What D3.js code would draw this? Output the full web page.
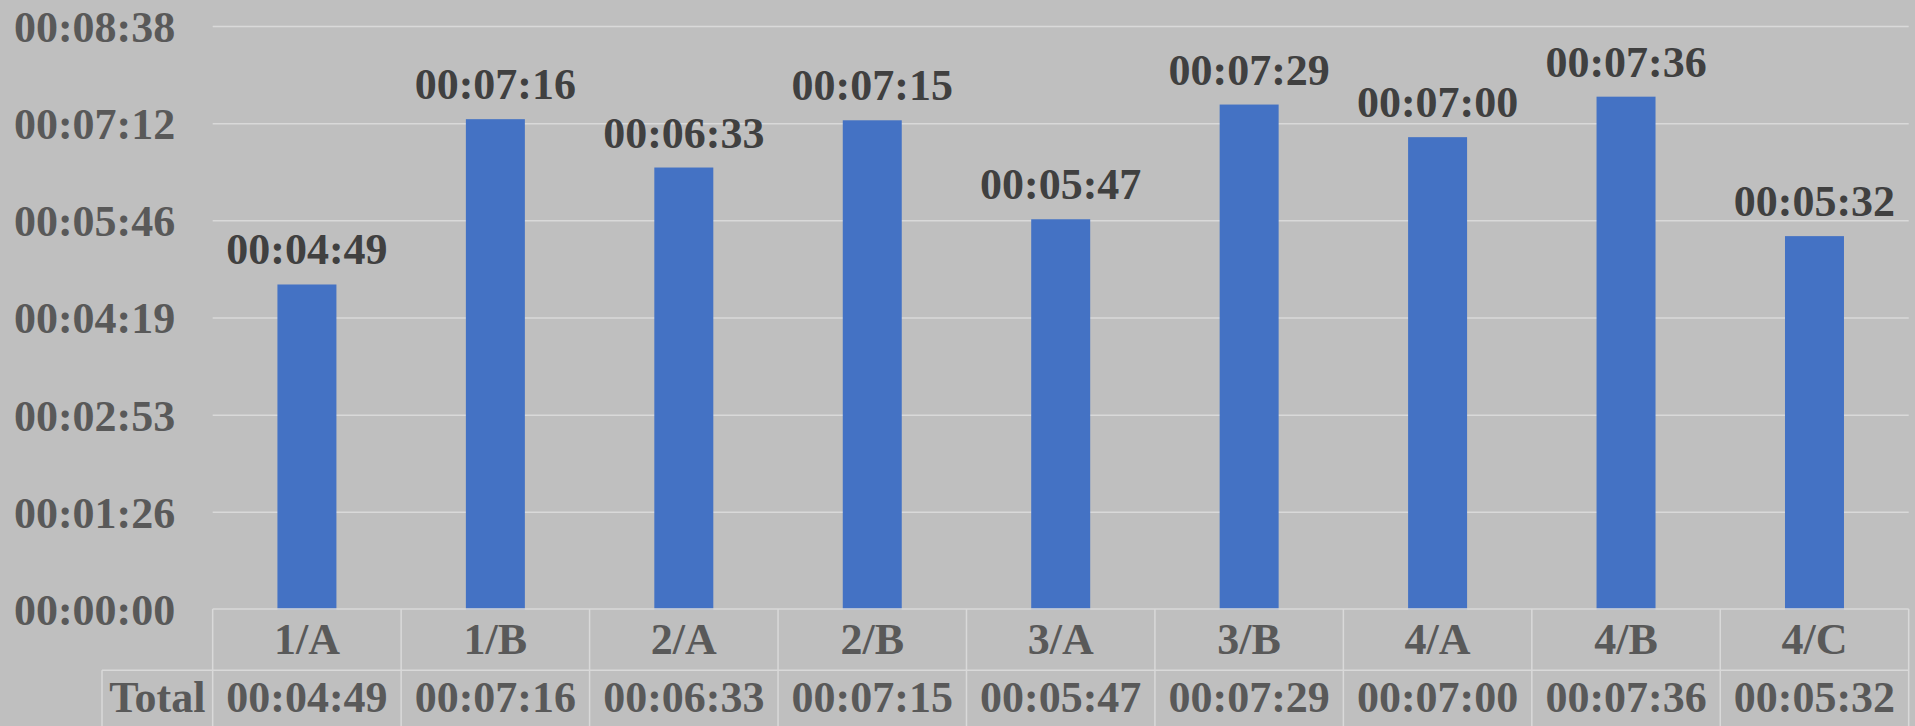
<!DOCTYPE html>
<html>
<head>
<meta charset="utf-8">
<script src="https://cdn.jsdelivr.net/npm/d3@7"></script>
<style>
  html, body { margin: 0; padding: 0; background: #BFBFBF; overflow: hidden; }
  svg { display: block; }
  text { font-family: "Liberation Serif", "Times New Roman", serif; font-weight: bold; }
</style>
</head>
<body>
<svg id="chart" width="1915" height="726"></svg>
<script>
// ---- data ----
const categories = ["1/A", "1/B", "2/A", "2/B", "3/A", "3/B", "4/A", "4/B", "4/C"];
const durationsSec = [289, 436, 393, 435, 347, 449, 420, 456, 332];
const tickValuesSec = [0, 86.4, 172.8, 259.2, 345.6, 432, 518.4];
const tickLabels = ["00:00:00", "00:01:26", "00:02:53", "00:04:19", "00:05:46", "00:07:12", "00:08:38"];
const seriesName = "Total";

function fmt(s) {
  const h = Math.floor(s / 3600), m = Math.floor((s % 3600) / 60), sec = Math.round(s % 60);
  const p = v => String(v).padStart(2, "0");
  return p(h) + ":" + p(m) + ":" + p(sec);
}

const W = 1915, H = 726;
const plotLeft = 212.7, plotRight = 1908.7, plotTop = 26.5, plotBottom = 609.5;
const fontSize = 44;
const gridColor = "#D9D9D9";

const svg = d3.select("#chart");

const x = d3.scaleBand().domain(categories).range([plotLeft, plotRight]).paddingInner(0).paddingOuter(0);
const y = d3.scaleLinear().domain([0, 518.4]).range([plotBottom, plotTop]);
const barW = x.bandwidth() * 0.313;

// gridlines
svg.append("g").selectAll("line").data(tickValuesSec.slice(1)).join("line")
  .attr("x1", plotLeft).attr("x2", plotRight)
  .attr("y1", d => y(d)).attr("y2", d => y(d))
  .attr("stroke", gridColor).attr("stroke-width", 1.5);

// y axis labels
const yAxis = d3.axisLeft(y).tickValues(tickValuesSec).tickFormat((d, i) => tickLabels[i]).tickSize(0).tickPadding(0);
const gy = svg.append("g").attr("transform", `translate(${plotLeft - 37.5},0)`).call(yAxis);
gy.select(".domain").remove();
gy.selectAll("text")
  .attr("fill", "#595959").attr("font-size", fontSize)
  .attr("font-family", '"Liberation Serif", "Times New Roman", serif').attr("font-weight", "bold")
  .attr("dy", "0.34em");

// bars
svg.append("g").selectAll("rect").data(durationsSec).join("rect")
  .attr("x", (d, i) => x(categories[i]) + x.bandwidth() / 2 - barW / 2)
  .attr("width", barW)
  .attr("y", d => y(d))
  .attr("height", d => y(0) - y(d))
  .attr("fill", "#4472C4");

// data labels
svg.append("g").selectAll("text").data(durationsSec).join("text")
  .attr("x", (d, i) => x(categories[i]) + x.bandwidth() / 2)
  .attr("y", d => y(d) - 20)
  .attr("text-anchor", "middle")
  .attr("fill", "#404040").attr("font-size", fontSize)
  .text(d => fmt(d));

// data table
const rowH = 61.3;
const tableTop = y(0) - 0.5;
const totalLeft = 102;
const tg = svg.append("g").attr("stroke", gridColor).attr("stroke-width", 1.5).attr("fill", "none");
tg.append("line").attr("x1", plotLeft).attr("x2", plotRight).attr("y1", tableTop).attr("y2", tableTop);
tg.append("line").attr("x1", totalLeft).attr("x2", plotRight).attr("y1", tableTop + rowH).attr("y2", tableTop + rowH);
const bounds = categories.map(c => x(c)).concat([plotRight]);
tg.selectAll("line.v").data(bounds).join("line").attr("class", "v")
  .attr("x1", d => d).attr("x2", d => d).attr("y1", tableTop).attr("y2", H + 2);
tg.append("line").attr("x1", totalLeft).attr("x2", totalLeft).attr("y1", tableTop + rowH).attr("y2", H + 2);

// category labels
svg.append("g").selectAll("text").data(categories).join("text")
  .attr("x", d => x(d) + x.bandwidth() / 2)
  .attr("y", tableTop + 45)
  .attr("text-anchor", "middle").attr("fill", "#595959").attr("font-size", fontSize)
  .text(d => d);

// total row
svg.append("text")
  .attr("x", (totalLeft + plotLeft) / 2).attr("y", tableTop + rowH + 42)
  .attr("text-anchor", "middle").attr("fill", "#595959").attr("font-size", fontSize)
  .text(seriesName);
svg.append("g").selectAll("text").data(durationsSec).join("text")
  .attr("x", (d, i) => x(categories[i]) + x.bandwidth() / 2)
  .attr("y", tableTop + rowH + 42)
  .attr("text-anchor", "middle").attr("fill", "#595959").attr("font-size", fontSize)
  .text(d => fmt(d));
</script>
</body>
</html>
